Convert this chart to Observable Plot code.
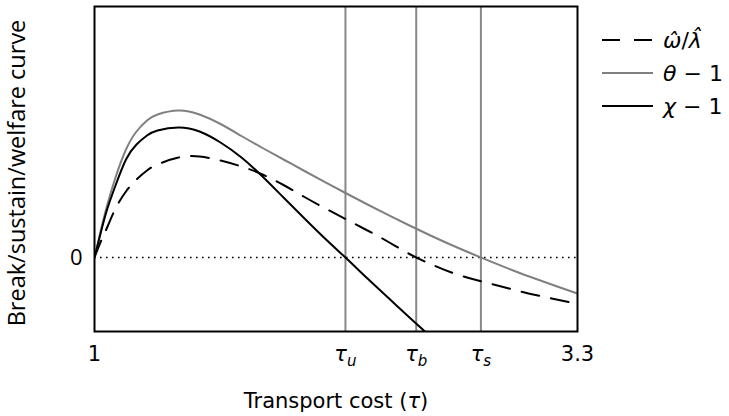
<!DOCTYPE html>
<html><head><meta charset="utf-8">
<script src="https://cdn.jsdelivr.net/npm/d3@7"></script>
<script src="https://cdn.jsdelivr.net/npm/@observablehq/plot@0.6"></script>
<style>
body{margin:0;background:#fff;}
#wrap{position:relative;width:729px;height:416px;}
#legend{position:absolute;left:602px;top:0;font-family:"DejaVu Sans",sans-serif;font-size:22px;color:#000;}
#legend .row{position:absolute;left:0;display:flex;align-items:center;white-space:nowrap;height:30px;}
#legend svg{margin-right:10px;}
</style></head><body><div id="wrap"><div id="legend"></div></div>
<script>
// transport cost grid
const tau = [1.00,1.03,1.06,1.10,1.15,1.20,1.25,1.30,1.40,1.50,1.60,1.70,1.80,1.90,2.00,2.10,2.20,2.30,2.40,2.50,2.60,2.70,2.80,2.90,3.00,3.10,3.20,3.30];
// series values
const omegaLambda = [0,0.16,0.30,0.49,0.66,0.78,0.87,0.93,1.00,1.01,0.97,0.91,0.83,0.725,0.605,0.49,0.38,0.27,0.155,0.035,-0.065,-0.15,-0.215,-0.27,-0.325,-0.375,-0.42,-0.465];
const thetaMinus1 = [0,0.27,0.52,0.80,1.08,1.26,1.37,1.43,1.47,1.43,1.335,1.215,1.095,0.98,0.865,0.752,0.64,0.53,0.423,0.32,0.22,0.125,0.035,-0.052,-0.135,-0.213,-0.288,-0.36];
const chiMinus1 = [0,0.25,0.48,0.72,0.98,1.13,1.22,1.27,1.30,1.26,1.15,1.00,0.81,0.60,0.39,0.185,-0.01,-0.21,-0.405,-0.60,-0.79,null,null,null,null,null,null,null];
// threshold values
const thresholds = [2.195, 2.532, 2.84];
const xTicks = [1, 2.195, 2.532, 2.84, 3.3];
const xTickLabels = ["1", "τu", "τb", "τs", "3.3"];
const seriesNames = ["ω̂/λ̂", "θ − 1", "χ − 1"];
const seriesValues = [omegaLambda, thetaMinus1, chiMinus1];
const seriesStroke = ["#000", "#808080", "#000"];
const seriesDash = ["18,12", null, null];

const rows = [];
seriesValues.forEach((vals, s) => vals.forEach((v, i) => { if (v !== null) rows.push({series: seriesNames[s], tau: tau[i], value: v}); }));

const lineMarks = seriesNames.map((name, s) => Plot.line(rows.filter(r => r.series === name), {
  x: "tau", y: "value", curve: "natural", stroke: seriesStroke[s], strokeWidth: 2,
  strokeDasharray: seriesDash[s] || undefined, clip: true
}));

const chart = Plot.plot({
  width: 729, height: 416,
  marginLeft: 94, marginRight: 152, marginTop: 6, marginBottom: 85,
  style: {fontFamily: "DejaVu Sans, sans-serif", fontSize: "21px", color: "#000", background: "#fff"},
  x: {domain: [1, 3.3]},
  y: {domain: [-0.74, 2.51]},
  marks: [
    Plot.ruleX(thresholds, {stroke: "#888", strokeWidth: 2}),
    Plot.ruleY([0], {stroke: "#000", strokeWidth: 1.6, strokeDasharray: "1.6,4.4"}),
    ...lineMarks,
    Plot.frame({stroke: "#000", strokeWidth: 2}),
    Plot.axisX({ticks: xTicks, tickFormat: (d, i) => xTickLabels[i], tickSize: 0, tickPadding: 15, fontSize: 21,
      label: "Transport cost (τ)", labelAnchor: "center", labelOffset: 76, labelArrow: "none"}),
    Plot.axisY({ticks: [0], tickFormat: () => "0", tickSize: 0, tickPadding: 12, fontSize: 21,
      label: "Break/sustain/welfare curve", labelAnchor: "center", labelOffset: 86, labelArrow: "none"})
  ]
});
document.getElementById("wrap").prepend(chart);

// subscripts on tau tick labels
chart.querySelectorAll('g[aria-label="x-axis tick label"] text').forEach(t => {
  const s = t.textContent;
  if (s.startsWith("τ")) {
    t.textContent = "";
    const a = document.createElementNS("http://www.w3.org/2000/svg", "tspan");
    a.setAttribute("font-style", "italic"); a.textContent = "τ";
    const b = document.createElementNS("http://www.w3.org/2000/svg", "tspan");
    b.setAttribute("font-style", "italic"); b.setAttribute("font-size", "15px"); b.setAttribute("dy", "0.3em");
    b.textContent = s.slice(1);
    t.append(a, b);
  }
});
// italic tau in axis label
chart.querySelectorAll('g[aria-label="x-axis label"] text').forEach(t => {
  t.innerHTML = 'Transport cost (<tspan font-style="italic">τ</tspan>)';
});
// y axis fonts
const yl = chart.querySelector('g[aria-label="y-axis label"]');
if (yl) {
  yl.style.fontFamily = "'Open Sans', sans-serif"; yl.style.fontSize = "23.5px";
  const tr = yl.getAttribute("transform") || "";
  yl.setAttribute("transform", ("translate(0,4) " + tr).trim());
}
const yt = chart.querySelector('g[aria-label="y-axis tick label"]');
if (yt) { yt.style.fontFamily = "'Open Sans', sans-serif"; yt.style.fontSize = "22px"; }

// legend
const legend = document.getElementById("legend");
const legendTops = [25, 58, 91];
const legendHtml = ['<i>ω̂</i>/<i>λ̂</i>', '<i>θ</i> − 1', '<i>χ</i> − 1'];
seriesNames.forEach((name, s) => {
  const row = document.createElement("div");
  row.className = "row"; row.style.top = legendTops[s] + "px";
  const dash = seriesDash[s] ? 'stroke-dasharray="18,14"' : '';
  row.innerHTML = `<svg width="51" height="6"><line x1="0" x2="51" y1="3" y2="3" stroke="${seriesStroke[s]}" stroke-width="2" ${dash}/></svg><span>${legendHtml[s]}</span>`;
  legend.appendChild(row);
});
</script>
</body></html>
